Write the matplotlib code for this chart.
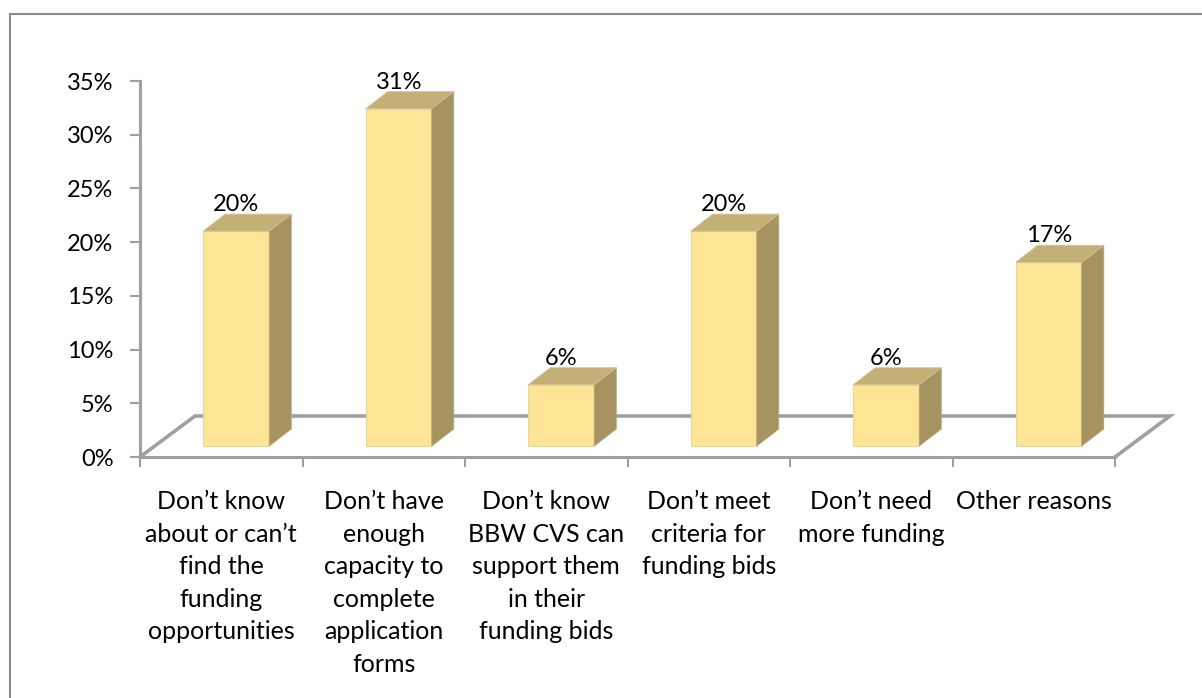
import matplotlib
matplotlib.use('Agg')
import matplotlib.pyplot as plt
from matplotlib.patches import Polygon, Rectangle

plt.rcParams['font.family'] = ['Lato', 'DejaVu Sans']

categories = [
    'Don\u2019t know\nabout or can\u2019t\nfind the\nfunding\nopportunities',
    'Don\u2019t have\nenough\ncapacity to\ncomplete\napplication\nforms',
    'Don\u2019t know\nBBW CVS can\nsupport them\nin their\nfunding bids',
    'Don\u2019t meet\ncriteria for\nfunding bids',
    'Don\u2019t need\nmore funding',
    'Other reasons',
]
values = [20.0, 31.4, 5.7, 20.0, 5.7, 17.1]
y_ticks = [0, 5, 10, 15, 20, 25, 30, 35]

W, H = 1202, 698
X0, X1 = 140, 1115   # axis ends in pixels
Y0, Y1 = 457, 81

fig = plt.figure(figsize=(W / 100, H / 100), dpi=100)
fig.add_artist(Rectangle((10.5 / W, -0.01), 1.2, 1 - 13.5 / H + 0.01, transform=fig.transFigure,
                         fill=False, ec='#8c8c8c', lw=1.5))

ax = fig.add_axes([X0 / W, 1 - Y0 / H, (X1 - X0) / W, (Y0 - Y1) / H])
ax.set_xlim(0, len(values))
ax.set_ylim(0, 35)

# oblique offsets in data units
px = len(values) / (X1 - X0)
py = 35 / (Y0 - Y1)
floor_dx, floor_dy = 55 * px, 41 * py
side_dx, side_dy = 22 * px, 17 * py
lift = 11 * py
shift = 15 * px
width = 66 * px

# floor outline
n = len(values)
ax.plot([0, floor_dx, n + floor_dx, n], [0, floor_dy, floor_dy, 0],
        color='#a0a0a0', lw=2.6, clip_on=False, zorder=1, solid_joinstyle='miter')

for i, v in enumerate(values):
    left = i + 0.5 + shift - width / 2
    right = left + width
    top = lift + v
    ax.bar(left, v, width=width, bottom=lift, align='edge', color='#fee595',
           edgecolor='#e3d6a4', lw=0.8, zorder=3, clip_on=False)
    ax.add_patch(Polygon([(right, lift), (right + side_dx, lift + side_dy),
                          (right + side_dx, top + side_dy), (right, top)],
                         fc='#a69360', ec='#b5a678', lw=0.6, zorder=3, clip_on=False))
    ax.add_patch(Polygon([(left, top), (left + side_dx, top + side_dy),
                          (right + side_dx, top + side_dy), (right, top)],
                         fc='#c4af77', ec='#d0c094', lw=0.6, zorder=3, clip_on=False))
    ax.text(left + width / 2, top + 1.5, f'{v:.0f}%', ha='center', va='bottom',
            fontsize=17, color='black', zorder=4, clip_on=False)

ax.set_yticks(y_ticks)
ax.set_yticklabels([f'{t}%' for t in y_ticks], fontsize=17)
ax.set_xticks(range(n + 1))
ax.set_xticklabels([])
ax.tick_params(axis='both', direction='out', color='#a0a0a0', width=1.5, length=7)
ax.tick_params(axis='y', pad=12)

for i, label in enumerate(categories):
    ax.text(i + 0.5, -3.1, label, ha='center', va='top', fontsize=18, linespacing=1.5,
            clip_on=False)

for side in ['top', 'right']:
    ax.spines[side].set_visible(False)
for side in ['left', 'bottom']:
    ax.spines[side].set_color('#a0a0a0')
    ax.spines[side].set_linewidth(2.2)

ax.patch.set_alpha(0)
fig.savefig('out.png', dpi=100)
